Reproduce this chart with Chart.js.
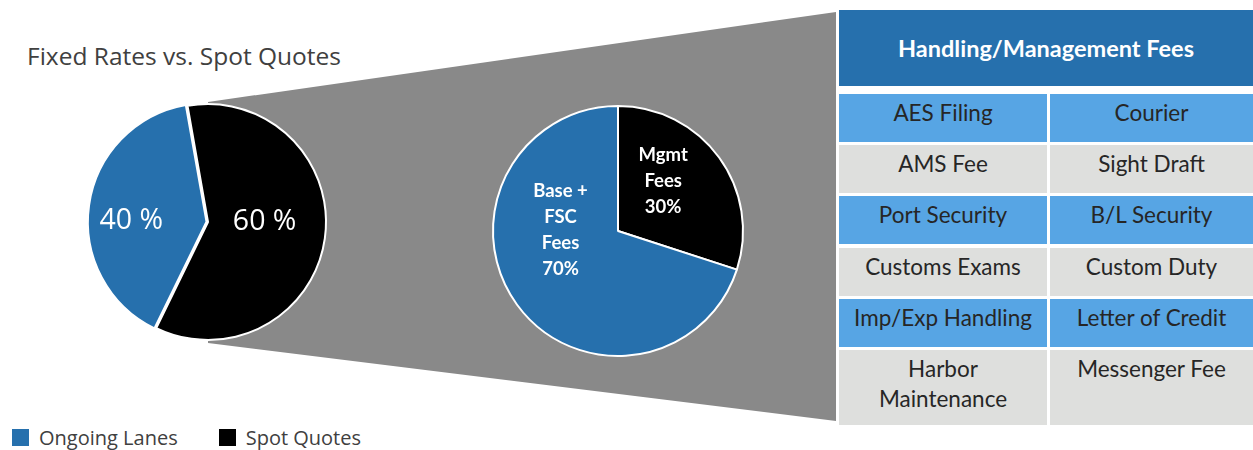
<!DOCTYPE html>
<html>
<head>
<meta charset="utf-8">
<script src="https://cdn.jsdelivr.net/npm/chart.js@4.4.0/dist/chart.umd.min.js"></script>
<style>
  body { margin: 0; background: #fff; }
  #stage { position: relative; width: 1253px; height: 450px; overflow: hidden; background: #fff; }
  #funnel {
    position: absolute; left: 0; top: 0; width: 1253px; height: 450px;
    background: #898989;
    clip-path: polygon(208px 102px, 836px 12px, 836px 421px, 208px 343px);
  }
  #title {
    position: absolute; left: 27px; top: 39px;
    font: 400 24.5px "Open Sans", sans-serif; color: #404040;
  }
  .box { position: absolute; width: 300px; height: 300px; }
  #box-left { left: 58px; top: 72px; }
  #box-mid { left: 468px; top: 81px; }
  #legend {
    position: absolute; left: 12px; top: 424px;
    font: 20px "Open Sans", sans-serif; color: #404040;
    display: flex;
  }
  #legend span.item { display: flex; align-items: center; margin-right: 41px; }
  #legend i { display: inline-block; width: 17px; height: 17px; margin-right: 10px; }
  #fees {
    position: absolute; left: 839px; top: 10px; width: 414px;
    display: grid;
    grid-template-columns: 208px 203px;
    column-gap: 3px;
    grid-template-rows: 80.8px repeat(5, 48px) 75px;
    row-gap: 3.2px;
    font-family: Lato, sans-serif;
  }
  #fees .head {
    grid-column: 1 / 3; background: #2670ad; color: #fff;
    font-weight: bold; font-size: 23.5px;
    display: flex; align-items: center; justify-content: center;
    margin-bottom: 5px;
  }
  #fees .cell {
    text-align: center; font-size: 22.5px; line-height: 30px; color: #262626;
    padding: 4px 14px 0; box-sizing: border-box;
  }
  #fees .blue { background: #57a5e4; }
  #fees .grey { background: #dedfdd; }
</style>
</head>
<body>
<div id="stage">
  <div id="funnel"></div>
  <div id="title">Fixed Rates vs. Spot Quotes</div>
  <div class="box" id="box-left"><canvas id="pie-left"></canvas></div>
  <div class="box" id="box-mid"><canvas id="pie-mid"></canvas></div>
  <div id="legend"></div>
  <div id="fees"></div>
</div>
<script>
////////////// data //////////////
var laneLabels = ['Ongoing Lanes', 'Spot Quotes'];
var laneValues = [40, 60];
var laneColors = ['#2670ad', '#000000'];

var feeLabels = [['Mgmt', 'Fees'], ['Base +', 'FSC', 'Fees']];
var feeValues = [30, 70];
var feeColors = ['#000000', '#2670ad'];

var tableTitle = 'Handling/Management Fees';
var tableRows = [
    ['AES Filing', 'Courier'],
    ['AMS Fee', 'Sight Draft'],
    ['Port Security', 'B/L Security'],
    ['Customs Exams', 'Custom Duty'],
    ['Imp/Exp Handling', 'Letter of Credit'],
    ['Harbor Maintenance', 'Messenger Fee']
];

////////////// labels drawn on the slices //////////////
var sliceText = {
    id: 'sliceText',
    afterDatasetsDraw: function (chart, args, opts) {
        var ctx = chart.ctx;
        var meta = chart.getDatasetMeta(0);
        meta.data.forEach(function (arc, i) {
            var mid = (arc.startAngle + arc.endAngle) / 2;
            var off = arc.options.offset || 0;
            var a = opts.spots[i][0] * Math.PI / 180;
            var r = arc.outerRadius * opts.spots[i][1];
            var x = arc.x + Math.cos(mid) * off + Math.sin(a) * r;
            var y = arc.y + Math.sin(mid) * off - Math.cos(a) * r;
            var lines = opts.lines(i);
            ctx.save();
            ctx.fillStyle = '#fff';
            ctx.font = opts.font;
            ctx.textAlign = 'center';
            ctx.textBaseline = 'middle';
            var top = y - (lines.length - 1) * opts.lineHeight / 2;
            lines.forEach(function (t, k) {
                ctx.fillText(t, x, top + k * opts.lineHeight);
            });
            ctx.restore();
        });
    }
};

////////////// left pie //////////////
new Chart(document.getElementById('pie-left'), {
    type: 'pie',
    data: {
        labels: laneLabels,
        datasets: [{
            data: laneValues,
            backgroundColor: laneColors,
            borderColor: '#fff',
            borderWidth: 2,
            offset: [6, 0]
        }]
    },
    options: {
        responsive: true,
        maintainAspectRatio: false,
        animation: false,
        events: [],
        rotation: 206,
        radius: 118,
        plugins: {
            legend: { display: false },
            tooltip: { enabled: false },
            sliceText: {
                spots: [[270, 0.6], [90, 0.48]],
                font: '400 28.5px "Open Sans", sans-serif',
                lineHeight: 30,
                lines: function (i) { return [laneValues[i] + ' %']; }
            }
        }
    },
    plugins: [sliceText]
});

////////////// middle pie //////////////
new Chart(document.getElementById('pie-mid'), {
    type: 'pie',
    data: {
        labels: feeLabels.map(function (l) { return l.join(' '); }),
        datasets: [{
            data: feeValues,
            backgroundColor: feeColors,
            borderColor: '#fff',
            borderWidth: 2
        }]
    },
    options: {
        responsive: true,
        maintainAspectRatio: false,
        animation: false,
        events: [],
        rotation: 0,
        radius: 125,
        plugins: {
            legend: { display: false },
            tooltip: { enabled: false },
            sliceText: {
                spots: [[42, 0.54], [271, 0.46]],
                font: 'bold 18.5px Lato, sans-serif',
                lineHeight: 26,
                lines: function (i) { return feeLabels[i].concat([feeValues[i] + '%']); }
            }
        }
    },
    plugins: [sliceText]
});

////////////// legend //////////////
var legend = document.getElementById('legend');
laneLabels.forEach(function (name, i) {
    var item = document.createElement('span');
    item.className = 'item';
    item.innerHTML = '<i style="background:' + laneColors[i] + '"></i>' + name;
    legend.appendChild(item);
});

////////////// fees table //////////////
var fees = document.getElementById('fees');
var head = document.createElement('div');
head.className = 'head';
head.textContent = tableTitle;
fees.appendChild(head);
tableRows.forEach(function (row, r) {
    row.forEach(function (txt) {
        var cell = document.createElement('div');
        cell.className = 'cell ' + (r % 2 === 0 ? 'blue' : 'grey');
        cell.textContent = txt;
        fees.appendChild(cell);
    });
});
</script>
</body>
</html>
